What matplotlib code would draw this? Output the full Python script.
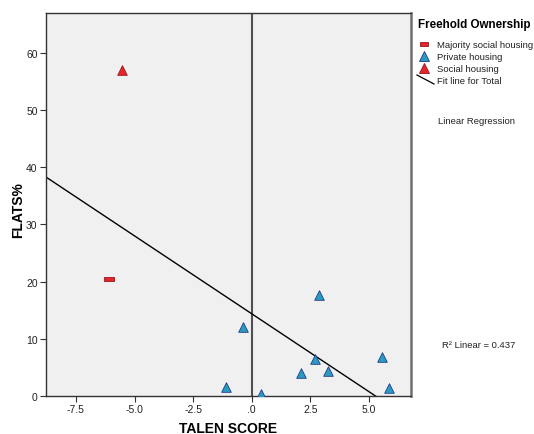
import numpy as np
import matplotlib
matplotlib.use("Agg")
import matplotlib.pyplot as plt
from matplotlib.lines import Line2D

plt.rcParams['font.family'] = ['Liberation Sans', 'DejaVu Sans']

# data
majority_x = [-6.07]
majority_y = [20.45]
social_x = [-5.55]
social_y = [57.0]
private_x = [-0.36, -1.09, 0.41, 2.87, 2.69, 2.10, 3.26, 5.55, 5.86]
private_y = [12.0, 1.5, 0.3, 17.7, 6.4, 4.0, 4.4, 6.75, 1.45]

xticks = [-7.5, -5.0, -2.5, 0.0, 2.5, 5.0]
xtick_labels = ['-7.5', '-5.0', '-2.5', '.0', '2.5', '5.0']
yticks = [0, 10, 20, 30, 40, 50, 60]

red = '#e3262e'
red_edge = '#9c1418'
blue = '#2a9bbf'
blue_edge = '#1c3a8c'
rect = [(-1, -0.5), (1, -0.5), (1, 0.5), (-1, 0.5), (-1, -0.5)]

fig = plt.figure(figsize=(5.34, 4.35), dpi=100)
ax = fig.add_axes([0.0861, 0.0874, 0.6835, 0.8805])
ax.set_facecolor('#f0f0f0')

xlim = (-8.78, 6.80)
ylim = (0, 67)

# fit line for total
all_x = np.array(majority_x + social_x + private_x)
all_y = np.array(majority_y + social_y + private_y)
slope, icpt = np.polyfit(all_x, all_y, 1)
fx = np.array(xlim)
ax.plot(fx, icpt + slope * fx, color='black', lw=1.0, zorder=2)

ax.axvline(0, color='#505050', lw=1.5, zorder=1)

ax.scatter(majority_x, majority_y, marker=rect, s=45, c=red, edgecolors=red_edge, linewidths=0.6, zorder=3)
ax.scatter(social_x, social_y, marker='^', s=48, c=red, edgecolors=red_edge, linewidths=0.6, zorder=3)
ax.scatter(private_x, private_y, marker='^', s=48, c=blue, edgecolors=blue_edge, linewidths=0.6, zorder=3)

ax.set_xlim(*xlim)
ax.set_ylim(*ylim)
ax.set_xticks(xticks)
ax.set_xticklabels(xtick_labels)
ax.set_yticks(yticks)
ax.tick_params(labelsize=7.5, length=4, width=0.8, color='#333333', labelcolor='#222222', pad=2)
for s in ax.spines.values():
    s.set_color('#333333')
    s.set_linewidth(1.0)
ax.spines['right'].set_color('#707070')
ax.spines['right'].set_linewidth(1.8)

# legend and labels placed in pixel terms
W, H = 534, 435
def fx_(px):
    return px / W
def fy_(py):
    return 1 - py / H

fig.text(fx_(228), fy_(429), 'TALEN SCORE', fontsize=10, fontweight='bold', va='center', ha='center')
fig.text(fx_(18), fy_(210), 'FLATS%', fontsize=10, fontweight='bold', va='center', ha='center', rotation=90)

fig.text(fx_(418), fy_(25), 'Freehold Ownership', fontsize=8.4, fontweight='bold', va='center', ha='left')
entries = [
    ('Majority social housing', rect, red, red_edge, 45),
    ('Private housing', '^', blue, blue_edge, 57),
    ('Social housing', '^', red, red_edge, 69),
]
for label, mk, fc, ec, py in entries:
    fig.add_artist(Line2D([fx_(424)], [fy_(py)], marker=mk, markersize=7 if mk == '^' else 6,
                          markerfacecolor=fc, markeredgecolor=ec, markeredgewidth=0.6, linestyle='none'))
    fig.text(fx_(437), fy_(py), label, fontsize=6.8, va='center', ha='left', color='#222222')
fig.add_artist(Line2D([fx_(417), fx_(434)], [fy_(76), fy_(85)], color='black', lw=0.9))
fig.text(fx_(437), fy_(81), 'Fit line for Total', fontsize=6.8, va='center', ha='left', color='#222222')
fig.text(fx_(438), fy_(122), 'Linear Regression', fontsize=6.8, va='center', ha='left', color='#222222')
fig.text(fx_(442), fy_(345), 'R² Linear = 0.437', fontsize=6.8, va='center', ha='left', color='#222222')

fig.savefig('out.png', dpi=100)
